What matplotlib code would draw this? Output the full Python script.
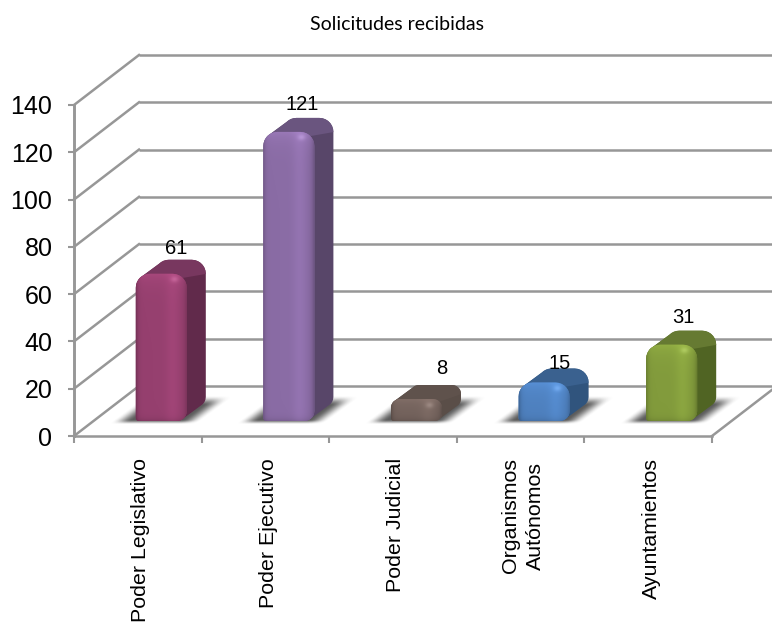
#!/usr/bin/env python3
"""Solicitudes recibidas: fake 3D bar chart, bevelled bars on a skewed floor."""

import numpy as np
import matplotlib
matplotlib.use("Agg")
import matplotlib.pyplot as plt
from matplotlib.patches import PathPatch, Polygon
from matplotlib.path import Path
from matplotlib.transforms import Affine2D, IdentityTransform, ScaledTranslation

TITLE = "Solicitudes recibidas"
categories = ["Poder Legislativo", "Poder Ejecutivo", "Poder Judicial",
              "Organismos\nAutónomos", "Ayuntamientos"]
values = [61, 121, 8, 15, 31]
y_ticks = [0, 20, 40, 60, 80, 100, 120, 140]

front_colors = ["#96406f", "#8a6ca5", "#73625c", "#4e80be", "#829b3c"]
side_colors = ["#612a4b", "#584669", "#5a4e48", "#30547d", "#506423"]
top_colors = ["#78375f", "#6a557f", "#5f524c", "#3a618f", "#667a32"]
# hand-placed data labels in the original, pixels from the bar's top back edge
label_nudge = [(-4.5, 11), (-6, 13), (6, 17), (-3.5, 5), (-7, 13)]

GRID = "#979797"
BACK_DX, BACK_DY = 65, 50       # pixels from front plane to back wall
BAR_DX, BAR_DY = -2, 15         # bar front face left edge from category centre, and into floor
BAR_W = 51
DEPTH_X, DEPTH_Y = 19, 14

plt.rcParams["font.family"] = ["Liberation Sans", "DejaVu Sans"]


def _corner(cx, cy, r, start, stop, n=8):
    angles = np.radians(np.linspace(start, stop, n))
    return np.column_stack([cx + r * np.cos(angles), cy + r * np.sin(angles)])


def _closed(points):
    points = np.vstack([points, points[:1]])
    codes = [Path.MOVETO] + [Path.LINETO] * (len(points) - 2) + [Path.CLOSEPOLY]
    return Path(points, codes)


def _smooth(t):
    t = np.clip(t, 0, 1)
    return t * t * (3 - 2 * t)


def _shade_front(x0, x1, yb, yt, base, radius):
    """RGB image of the front face: soft vertical band, bright top bevel."""
    w, h = int(x1 - x0) * 2, max(int(yt - yb) * 2, 2)
    xs = np.linspace(0, 1, w)
    ys = np.linspace(0, yt - yb, h)
    profile = (1 - 0.22 * np.exp(-xs / 0.04) - 0.2 * np.exp((xs - 1) / 0.05)
               + 0.07 * np.exp(-((xs - 0.72) / 0.14) ** 2))
    shade = np.tile(profile, (h, 1))
    from_top = (yt - yb) - ys
    shade = shade + (0.12 * np.exp(-from_top / (radius * 0.7)))[:, None]
    shade = shade - (0.12 * np.exp(-ys / 3))[:, None]
    # small specular spot near the top right bevel
    xpx, ypx = np.meshgrid(xs * (x1 - x0), ys)
    spot = np.exp(-(((xpx - (x1 - x0) * 0.76) / 4) ** 2
                    + ((ypx - (yt - yb - 6)) / 3) ** 2))
    rgb = np.array(matplotlib.colors.to_rgb(base))
    img = rgb[None, None, :] * shade[:, :, None] + 0.11 * spot[:, :, None]
    return np.clip(img, 0, 1)


def _draw_shadow(ax, x0, x1, yb, zorder):
    """Blurred skewed floor shadow behind and around the bar foot."""
    left, right = x0 - 28, x1 + DEPTH_X + 28
    bottom, top = yb - 6, yb + 28
    xs, ys = np.meshgrid(np.arange(left, right), np.arange(bottom, top))
    skew = xs - (ys - yb) * (DEPTH_X / DEPTH_Y)
    along = _smooth((skew - (x0 - 24)) / 20) * _smooth(((x1 + 14) - skew) / 20)
    across = _smooth((ys - (yb - 4)) / 5) * _smooth((yb + 25 - ys) / 10)
    rgba = np.zeros(xs.shape + (4,))
    rgba[..., :3] = 0.25
    rgba[..., 3] = 0.85 * along * across
    ax.imshow(rgba, extent=(left, right, bottom, top), origin="lower",
              aspect="auto", transform=IdentityTransform(), clip_on=False,
              zorder=zorder, interpolation="bilinear")


def _draw_bar(ax, idx, value):
    cx, ytop = ax.transData.transform((idx + 0.5, value))
    _, ybase = ax.transData.transform((idx + 0.5, 0))
    x0 = cx + BAR_DX
    x1 = x0 + BAR_W
    yb = ybase + BAR_DY
    yt = ytop + BAR_DY + 3
    r = min(14, (yt - yb) * 0.4)
    rb, rr = 3, min(10, (yt - yb) * 0.35)
    z = 3 + idx * 0.1
    _draw_shadow(ax, x0, x1, yb, z)

    ddx, ddy = DEPTH_X, DEPTH_Y
    hull = np.vstack([
        _corner(x0 + r, yt - r, r, 180, 135, 5),
        _corner(x0 + r + ddx, yt - r + ddy, r, 135, 90, 5),
        _corner(x1 - r + ddx, yt - r + ddy, r, 90, 0),
        _corner(x1 - rr + ddx, yb + rr + ddy, rr, 0, -45, 4),
        _corner(x1 - rr, yb + rr, rr, -45, -90, 4),
        _corner(x0 + rb, yb + rb, rb, -90, -180, 4),
    ])
    body = PathPatch(_closed(hull), facecolor=side_colors[idx], edgecolor="none",
                     transform=IdentityTransform(), clip_on=False, zorder=z + 0.01)
    ax.add_patch(body)

    # top face runs from the front top edge back to the rear top edge
    top_face = Polygon([(x0, yt - r * 0.4), (x0 + ddx + r * 0.5, yt + ddy + 1),
                        (x1 + ddx + 1, yt + ddy + 1), (x1 + ddx + 1, yt + ddy - r),
                        (x1 - r * 0.3, yt - r * 0.3)],
                       closed=True, facecolor=top_colors[idx], edgecolor="none",
                       transform=IdentityTransform(), zorder=z + 0.02)
    ax.add_patch(top_face)
    top_face.set_clip_box(None)
    top_face.set_clip_path(body.get_path(), body.get_transform())

    front = np.vstack([
        _corner(x0 + r, yt - r, r, 180, 90),
        _corner(x1 - r, yt - r, r, 90, 0),
        _corner(x1 - rr, yb + rr, rr, 0, -90),
        _corner(x0 + rb, yb + rb, rb, -90, -180),
    ])
    face = PathPatch(_closed(front), facecolor=front_colors[idx], edgecolor="none",
                     transform=IdentityTransform(), clip_on=False, zorder=z + 0.03)
    ax.add_patch(face)
    img = ax.imshow(_shade_front(x0, x1, yb, yt, front_colors[idx], r),
                    extent=(x0, x1, yb, yt), origin="lower", aspect="auto",
                    transform=IdentityTransform(), zorder=z + 0.04,
                    interpolation="bilinear")
    img.set_clip_box(None)
    img.set_clip_path(face.get_path(), face.get_transform())

    nx, ny = label_nudge[idx]
    ax.text(x0 + ddx + BAR_W / 2 + nx, yt + ddy + ny, str(value),
            transform=IdentityTransform(), ha="center", va="center",
            fontsize=14.5, color="black", zorder=9, clip_on=False)


def main():
    fig = plt.figure(figsize=(7.72, 6.22), dpi=100)
    ax = fig.add_axes([74 / 772, (622 - 436) / 622, (712 - 74) / 772, (436 - 105) / 622])
    ax.set_autoscale_on(False)
    ax.set_xlim(0, 5)
    ax.set_ylim(0, 140)
    ax.patch.set_visible(False)
    for side in ("top", "right"):
        ax.spines[side].set_visible(False)
    ax.spines["left"].set_color(GRID)
    ax.spines["left"].set_linewidth(2.1)
    ax.spines["bottom"].set_color(GRID)
    ax.spines["bottom"].set_linewidth(1.8)

    ax.set_yticks(y_ticks)
    ax.tick_params(axis="y", labelsize=18, length=4.5, width=1.5, color=GRID, pad=11)
    ax.set_xticks(range(len(categories) + 1), [""] * (len(categories) + 1))
    ax.tick_params(axis="x", which="major", length=5, width=1.5, color=GRID)
    ax.set_xticks(np.arange(len(categories)) + 0.5, categories, minor=True,
                  rotation=90, ha="center", va="top", multialignment="center",
                  linespacing=1.4)
    ax.tick_params(axis="x", which="minor", length=0, labelsize=15.4, pad=16)
    shift = ScaledTranslation(2 / 72, 0, fig.dpi_scale_trans)
    for label in ax.get_xticklabels(minor=True):
        label.set_transform(label.get_transform() + shift)

    # back wall gridlines and the skewed lines down to the y axis
    back = ax.transData + Affine2D().translate(BACK_DX, BACK_DY)
    ax.hlines(y_ticks, 0, 5.2, colors=GRID, linewidth=1.8, transform=back,
              clip_on=False, zorder=1)
    for tick in y_ticks:
        x, y = ax.transData.transform((0, tick))
        ax.plot([x, x + BACK_DX], [y, y + BACK_DY], color=GRID, linewidth=1.8,
                transform=IdentityTransform(), clip_on=False, zorder=1)
    x, y = ax.transData.transform((5, 0))
    ax.plot([x, x + BACK_DX], [y, y + BACK_DY], color=GRID, linewidth=1.8,
            transform=IdentityTransform(), clip_on=False, zorder=1)

    for idx, value in enumerate(values):
        _draw_bar(ax, idx, value)

    fig.text(397 / 772, 1 - 24 / 622, TITLE, ha="center", va="center",
             fontsize=14, family=["Lato", "DejaVu Sans"])
    fig.savefig("out.png", dpi=100)
    plt.close(fig)


if __name__ == "__main__":
    main()
